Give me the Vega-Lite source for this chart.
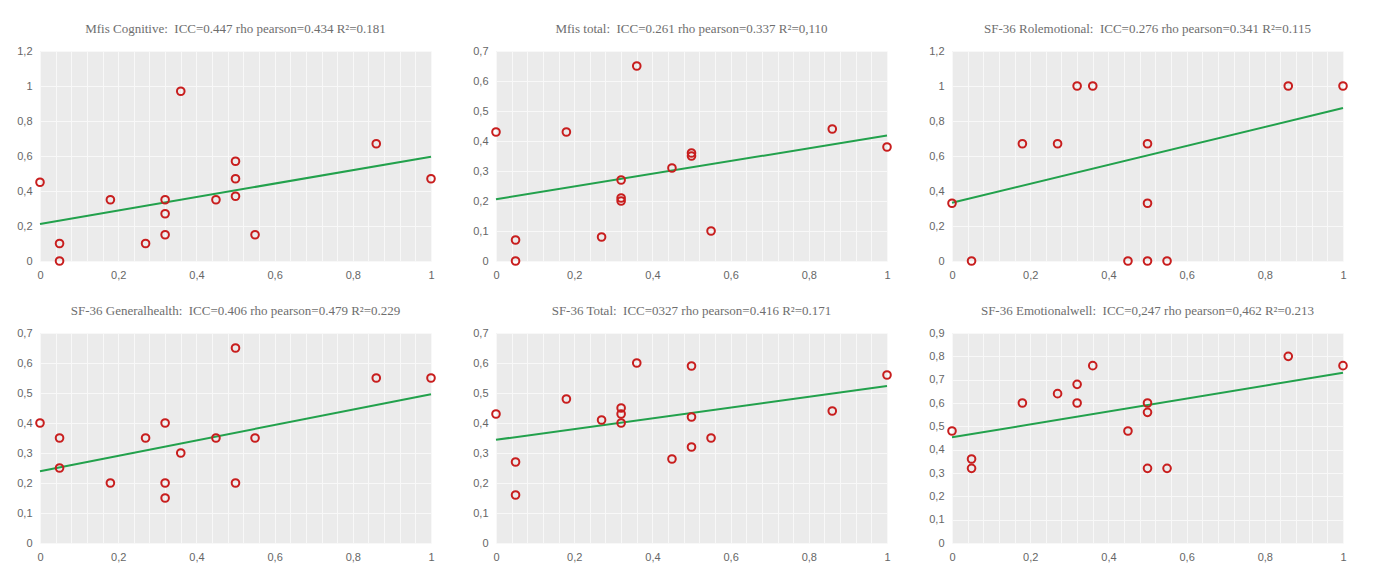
{
  "$schema": "https://vega.github.io/schema/vega-lite/v6.json",
  "background": "white",
  "padding": {"left": 16, "top": 23, "right": 5, "bottom": 5},
  "datasets": {
    "pts": [
      {"p":1,"x":0,"y":0.45},{"p":1,"x":0.05,"y":0.10},{"p":1,"x":0.05,"y":0},{"p":1,"x":0.18,"y":0.35},{"p":1,"x":0.27,"y":0.10},{"p":1,"x":0.32,"y":0.35},{"p":1,"x":0.32,"y":0.27},{"p":1,"x":0.32,"y":0.15},{"p":1,"x":0.36,"y":0.97},{"p":1,"x":0.45,"y":0.35},{"p":1,"x":0.5,"y":0.57},{"p":1,"x":0.5,"y":0.47},{"p":1,"x":0.5,"y":0.37},{"p":1,"x":0.55,"y":0.15},{"p":1,"x":0.86,"y":0.67},{"p":1,"x":1,"y":0.47},
      {"p":2,"x":0,"y":0.43},{"p":2,"x":0.05,"y":0.07},{"p":2,"x":0.05,"y":0},{"p":2,"x":0.18,"y":0.43},{"p":2,"x":0.27,"y":0.08},{"p":2,"x":0.32,"y":0.27},{"p":2,"x":0.32,"y":0.21},{"p":2,"x":0.32,"y":0.20},{"p":2,"x":0.36,"y":0.65},{"p":2,"x":0.45,"y":0.31},{"p":2,"x":0.5,"y":0.36},{"p":2,"x":0.5,"y":0.35},{"p":2,"x":0.55,"y":0.10},{"p":2,"x":0.86,"y":0.44},{"p":2,"x":1,"y":0.38},
      {"p":3,"x":0,"y":0.33},{"p":3,"x":0.05,"y":0},{"p":3,"x":0.18,"y":0.67},{"p":3,"x":0.27,"y":0.67},{"p":3,"x":0.32,"y":1},{"p":3,"x":0.36,"y":1},{"p":3,"x":0.45,"y":0},{"p":3,"x":0.5,"y":0.67},{"p":3,"x":0.5,"y":0.33},{"p":3,"x":0.5,"y":0},{"p":3,"x":0.55,"y":0},{"p":3,"x":0.86,"y":1},{"p":3,"x":1,"y":1},
      {"p":4,"x":0,"y":0.40},{"p":4,"x":0.05,"y":0.35},{"p":4,"x":0.05,"y":0.25},{"p":4,"x":0.18,"y":0.20},{"p":4,"x":0.27,"y":0.35},{"p":4,"x":0.32,"y":0.40},{"p":4,"x":0.32,"y":0.20},{"p":4,"x":0.32,"y":0.15},{"p":4,"x":0.36,"y":0.30},{"p":4,"x":0.45,"y":0.35},{"p":4,"x":0.5,"y":0.65},{"p":4,"x":0.5,"y":0.20},{"p":4,"x":0.55,"y":0.35},{"p":4,"x":0.86,"y":0.55},{"p":4,"x":1,"y":0.55},
      {"p":5,"x":0,"y":0.43},{"p":5,"x":0.05,"y":0.27},{"p":5,"x":0.05,"y":0.16},{"p":5,"x":0.18,"y":0.48},{"p":5,"x":0.27,"y":0.41},{"p":5,"x":0.32,"y":0.45},{"p":5,"x":0.32,"y":0.43},{"p":5,"x":0.32,"y":0.40},{"p":5,"x":0.36,"y":0.60},{"p":5,"x":0.45,"y":0.28},{"p":5,"x":0.5,"y":0.59},{"p":5,"x":0.5,"y":0.42},{"p":5,"x":0.5,"y":0.32},{"p":5,"x":0.55,"y":0.35},{"p":5,"x":0.86,"y":0.44},{"p":5,"x":1,"y":0.56},
      {"p":6,"x":0,"y":0.48},{"p":6,"x":0.05,"y":0.36},{"p":6,"x":0.05,"y":0.32},{"p":6,"x":0.18,"y":0.60},{"p":6,"x":0.27,"y":0.64},{"p":6,"x":0.32,"y":0.68},{"p":6,"x":0.32,"y":0.60},{"p":6,"x":0.36,"y":0.76},{"p":6,"x":0.45,"y":0.48},{"p":6,"x":0.5,"y":0.60},{"p":6,"x":0.5,"y":0.56},{"p":6,"x":0.5,"y":0.32},{"p":6,"x":0.55,"y":0.32},{"p":6,"x":0.86,"y":0.80},{"p":6,"x":1,"y":0.76}
    ],
    "fit": [
      {"p":1,"x":0,"y":0.212},{"p":1,"x":1,"y":0.596},
      {"p":2,"x":0,"y":0.206},{"p":2,"x":1,"y":0.418},
      {"p":3,"x":0,"y":0.333},{"p":3,"x":1,"y":0.874},
      {"p":4,"x":0,"y":0.239},{"p":4,"x":1,"y":0.496},
      {"p":5,"x":0,"y":0.344},{"p":5,"x":1,"y":0.523},
      {"p":6,"x":0,"y":0.453},{"p":6,"x":1,"y":0.730}
    ]
  },
  "columns": 3,
  "spacing": {"row": 25, "column": 33},
  "concat": [
    {
      "title": "Mfis Cognitive:\u00a0 ICC=0.447 rho pearson=0.434 R\u00b2=0.181",
      "width": 391, "height": 210,
      "encoding": {
        "x": {"field": "x", "type": "quantitative", "scale": {"domain": [0, 1], "nice": false}, "axis": {"values": [0,0.04,0.08,0.12,0.16,0.2,0.24,0.28,0.32,0.36,0.4,0.44,0.48,0.52,0.56,0.6,0.64,0.68,0.72,0.76,0.8,0.84,0.88,0.92,0.96,1], "labelExpr": "abs(datum.value*5 - round(datum.value*5)) < 0.000001 ? replace(format(datum.value, '~g'), '.', ',') : ''"}},
        "y": {"field": "y", "type": "quantitative", "scale": {"domain": [0, 1.2], "nice": false}, "axis": {"values": [0,0.2,0.4,0.6,0.8,1,1.2]}}
      },
      "layer": [
        {"data": {"name": "fit"}, "transform": [{"filter": "datum.p == 1"}], "mark": {"type": "line", "color": "#22a14c", "strokeWidth": 2}},
        {"data": {"name": "pts"}, "transform": [{"filter": "datum.p == 1"}], "mark": {"type": "point", "shape": "circle", "filled": false, "color": "#c81e1e", "strokeWidth": 2, "size": 58, "opacity": 1}}
      ]
    },
    {
      "title": "Mfis total:\u00a0 ICC=0.261 rho pearson=0.337 R\u00b2=0,110",
      "width": 391, "height": 210,
      "encoding": {
        "x": {"field": "x", "type": "quantitative", "scale": {"domain": [0, 1], "nice": false}, "axis": {"values": [0,0.04,0.08,0.12,0.16,0.2,0.24,0.28,0.32,0.36,0.4,0.44,0.48,0.52,0.56,0.6,0.64,0.68,0.72,0.76,0.8,0.84,0.88,0.92,0.96,1], "labelExpr": "abs(datum.value*5 - round(datum.value*5)) < 0.000001 ? replace(format(datum.value, '~g'), '.', ',') : ''"}},
        "y": {"field": "y", "type": "quantitative", "scale": {"domain": [0, 0.7], "nice": false}, "axis": {"values": [0,0.1,0.2,0.3,0.4,0.5,0.6,0.7]}}
      },
      "layer": [
        {"data": {"name": "fit"}, "transform": [{"filter": "datum.p == 2"}], "mark": {"type": "line", "color": "#22a14c", "strokeWidth": 2}},
        {"data": {"name": "pts"}, "transform": [{"filter": "datum.p == 2"}], "mark": {"type": "point", "shape": "circle", "filled": false, "color": "#c81e1e", "strokeWidth": 2, "size": 58, "opacity": 1}}
      ]
    },
    {
      "title": "SF-36 Rolemotional:\u00a0 ICC=0.276 rho pearson=0.341 R\u00b2=0.115",
      "width": 391, "height": 210,
      "encoding": {
        "x": {"field": "x", "type": "quantitative", "scale": {"domain": [0, 1], "nice": false}, "axis": {"values": [0,0.04,0.08,0.12,0.16,0.2,0.24,0.28,0.32,0.36,0.4,0.44,0.48,0.52,0.56,0.6,0.64,0.68,0.72,0.76,0.8,0.84,0.88,0.92,0.96,1], "labelExpr": "abs(datum.value*5 - round(datum.value*5)) < 0.000001 ? replace(format(datum.value, '~g'), '.', ',') : ''"}},
        "y": {"field": "y", "type": "quantitative", "scale": {"domain": [0, 1.2], "nice": false}, "axis": {"values": [0,0.2,0.4,0.6,0.8,1,1.2]}}
      },
      "layer": [
        {"data": {"name": "fit"}, "transform": [{"filter": "datum.p == 3"}], "mark": {"type": "line", "color": "#22a14c", "strokeWidth": 2}},
        {"data": {"name": "pts"}, "transform": [{"filter": "datum.p == 3"}], "mark": {"type": "point", "shape": "circle", "filled": false, "color": "#c81e1e", "strokeWidth": 2, "size": 58, "opacity": 1}}
      ]
    },
    {
      "title": "SF-36 Generalhealth:\u00a0 ICC=0.406 rho pearson=0.479 R\u00b2=0.229",
      "width": 391, "height": 210,
      "encoding": {
        "x": {"field": "x", "type": "quantitative", "scale": {"domain": [0, 1], "nice": false}, "axis": {"values": [0,0.04,0.08,0.12,0.16,0.2,0.24,0.28,0.32,0.36,0.4,0.44,0.48,0.52,0.56,0.6,0.64,0.68,0.72,0.76,0.8,0.84,0.88,0.92,0.96,1], "labelExpr": "abs(datum.value*5 - round(datum.value*5)) < 0.000001 ? replace(format(datum.value, '~g'), '.', ',') : ''"}},
        "y": {"field": "y", "type": "quantitative", "scale": {"domain": [0, 0.7], "nice": false}, "axis": {"values": [0,0.1,0.2,0.3,0.4,0.5,0.6,0.7]}}
      },
      "layer": [
        {"data": {"name": "fit"}, "transform": [{"filter": "datum.p == 4"}], "mark": {"type": "line", "color": "#22a14c", "strokeWidth": 2}},
        {"data": {"name": "pts"}, "transform": [{"filter": "datum.p == 4"}], "mark": {"type": "point", "shape": "circle", "filled": false, "color": "#c81e1e", "strokeWidth": 2, "size": 58, "opacity": 1}}
      ]
    },
    {
      "title": "SF-36 Total:\u00a0 ICC=0327 rho pearson=0.416 R\u00b2=0.171",
      "width": 391, "height": 210,
      "encoding": {
        "x": {"field": "x", "type": "quantitative", "scale": {"domain": [0, 1], "nice": false}, "axis": {"values": [0,0.04,0.08,0.12,0.16,0.2,0.24,0.28,0.32,0.36,0.4,0.44,0.48,0.52,0.56,0.6,0.64,0.68,0.72,0.76,0.8,0.84,0.88,0.92,0.96,1], "labelExpr": "abs(datum.value*5 - round(datum.value*5)) < 0.000001 ? replace(format(datum.value, '~g'), '.', ',') : ''"}},
        "y": {"field": "y", "type": "quantitative", "scale": {"domain": [0, 0.7], "nice": false}, "axis": {"values": [0,0.1,0.2,0.3,0.4,0.5,0.6,0.7]}}
      },
      "layer": [
        {"data": {"name": "fit"}, "transform": [{"filter": "datum.p == 5"}], "mark": {"type": "line", "color": "#22a14c", "strokeWidth": 2}},
        {"data": {"name": "pts"}, "transform": [{"filter": "datum.p == 5"}], "mark": {"type": "point", "shape": "circle", "filled": false, "color": "#c81e1e", "strokeWidth": 2, "size": 58, "opacity": 1}}
      ]
    },
    {
      "title": "SF-36 Emotionalwell:\u00a0 ICC=0,247 rho pearson=0,462 R\u00b2=0.213",
      "width": 391, "height": 210,
      "encoding": {
        "x": {"field": "x", "type": "quantitative", "scale": {"domain": [0, 1], "nice": false}, "axis": {"values": [0,0.04,0.08,0.12,0.16,0.2,0.24,0.28,0.32,0.36,0.4,0.44,0.48,0.52,0.56,0.6,0.64,0.68,0.72,0.76,0.8,0.84,0.88,0.92,0.96,1], "labelExpr": "abs(datum.value*5 - round(datum.value*5)) < 0.000001 ? replace(format(datum.value, '~g'), '.', ',') : ''"}},
        "y": {"field": "y", "type": "quantitative", "scale": {"domain": [0, 0.9], "nice": false}, "axis": {"values": [0,0.1,0.2,0.3,0.4,0.5,0.6,0.7,0.8,0.9]}}
      },
      "layer": [
        {"data": {"name": "fit"}, "transform": [{"filter": "datum.p == 6"}], "mark": {"type": "line", "color": "#22a14c", "strokeWidth": 2}},
        {"data": {"name": "pts"}, "transform": [{"filter": "datum.p == 6"}], "mark": {"type": "point", "shape": "circle", "filled": false, "color": "#c81e1e", "strokeWidth": 2, "size": 58, "opacity": 1}}
      ]
    }
  ],
  "config": {
    "view": {"stroke": null, "fill": "#ebebeb"},
    "title": {"font": "Liberation Serif", "fontSize": 13, "fontWeight": "normal", "color": "#6e6e6e", "offset": 9, "anchor": "middle", "frame": "group"},
    "axis": {
      "title": null, "domain": false, "ticks": false, "grid": true,
      "gridColor": "#f8f8f8", "gridWidth": 1,
      "labelFont": "Liberation Sans", "labelFontSize": 11, "labelColor": "#666666",
      "labelPadding": 8, "labelOverlap": false
    },
    "axisX": {"labelFlush": false},
    "axisY": {"labelExpr": "replace(format(datum.value, '~g'), '.', ',')"}
  }
}
